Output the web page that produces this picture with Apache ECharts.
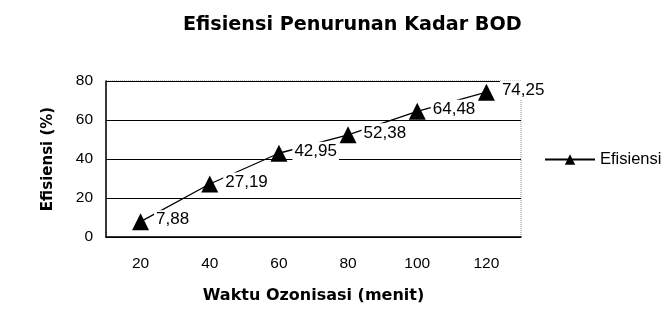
<!DOCTYPE html>
<html>
<head>
<meta charset="utf-8">
<script src="https://cdn.jsdelivr.net/npm/echarts@6/dist/echarts.min.js"></script>
<style>
  html, body { margin: 0; padding: 0; background: #fff; }
  #chart { width: 668px; height: 325px; }
</style>
</head>
<body>
<div id="chart"></div>
<script>
// Ozonation time (minutes) and BOD removal efficiency (%)
const waktu = ['20', '40', '60', '80', '100', '120'];
const efisiensi = [7.88, 27.19, 42.95, 52.38, 64.48, 74.25];
const yTicks = { min: 0, max: 80, interval: 20 };

const chart = echarts.init(document.getElementById('chart'));
const font = 'Arial, "Liberation Sans", sans-serif';
const wideBold = '"DejaVu Sans", Verdana, sans-serif';

chart.setOption({
  backgroundColor: '#ffffff',
  animation: false,
  title: {
    text: 'Efisiensi Penurunan Kadar BOD',
    left: 178,
    top: 11,
    textStyle: { fontFamily: wideBold, fontSize: 19.2, fontWeight: 'bold', color: '#000' }
  },
  legend: {
    data: ['Efisiensi'],
    left: 539,
    top: 146,
    itemWidth: 50,
    itemHeight: 13,
    itemGap: 3,
    textStyle: { fontFamily: font, fontSize: 16.5, color: '#000' }
  },
  grid: {
    left: 106, right: 147, top: 81, bottom: 88,
    show: true, borderColor: '#888', borderWidth: 1, borderType: 'dotted'
  },
  xAxis: {
    type: 'category',
    data: waktu,
    boundaryGap: true,
    name: 'Waktu Ozonisasi (menit)',
    nameLocation: 'middle',
    nameGap: 51,
    nameTextStyle: { fontFamily: wideBold, fontSize: 16, fontWeight: 'bold', color: '#000' },
    axisLine: { lineStyle: { color: '#000', width: 1.5 } },
    axisTick: { show: false },
    axisLabel: { fontFamily: font, fontSize: 15.5, color: '#000', margin: 19 },
    splitLine: { show: false }
  },
  yAxis: {
    type: 'value',
    min: yTicks.min,
    max: yTicks.max,
    interval: yTicks.interval,
    name: 'Efisiensi (%)',
    nameLocation: 'middle',
    nameGap: 50,
    nameRotate: 90,
    nameTextStyle: { fontFamily: wideBold, fontSize: 15, fontWeight: 'bold', color: '#000' },
    axisLine: { show: true, lineStyle: { color: '#000', width: 1.5 } },
    axisTick: { show: false },
    axisLabel: { fontFamily: font, fontSize: 15.5, color: '#000', margin: 13 },
    splitLine: { show: true, lineStyle: { color: '#000', width: 1.2 } }
  },
  series: [{
    name: 'Efisiensi',
    type: 'line',
    data: efisiensi,
    symbol: 'triangle',
    symbolSize: 17,
    itemStyle: { color: '#000' },
    lineStyle: { color: '#000', width: 1.3 },
    label: {
      show: true,
      position: 'right',
      distance: 5,
      offset: [0, -2],
      fontFamily: font,
      fontSize: 17,
      color: '#000',
      backgroundColor: '#fff',
      padding: [1, 2],
      formatter: p => String(p.value).replace('.', ',')
    }
  }]
});
</script>
</body>
</html>
